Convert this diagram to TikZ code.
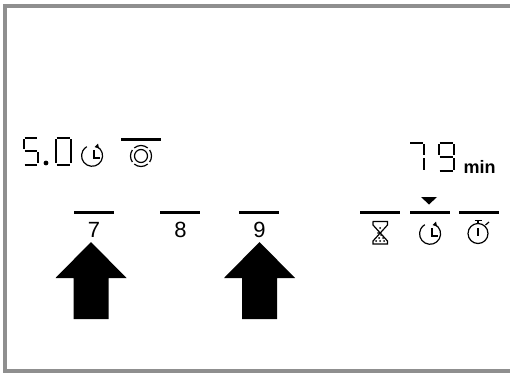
\documentclass[tikz,border=0pt]{standalone}
\usepackage{fontspec}
\setmainfont{Liberation Sans}
\definecolor{framegray}{gray}{0.56}
\tikzset{
  softkey/.style={line width=3pt},
  segment/.style={line width=2pt},
  symbol/.style={line width=1.2pt},
  keylabel/.style={inner sep=0pt,font=\fontsize{22}{22}\selectfont},
}
\begin{document}
\begin{tikzpicture}[x=1pt,y=-1pt]
  \useasboundingbox (0,0) rectangle (510,372);

% frame
  \draw[framegray,line width=4pt] (510,6) -- (5,6) -- (5,371) -- (510,371);

% soft keys
  \foreach \x in {74,160,239,360,410,459} {
      \draw[softkey] (\x,212.5) -- (\x+40,212.5);
  }
  \draw[softkey] (121,139.5) -- (161,139.5);

% key numbers
  \node[keylabel] (seven) at (94,229.5) {7};
  \node[keylabel] (eight) at (180.5,229.5) {8};
  \node[keylabel] (nine) at (259.5,229.5) {9};
  \node[inner sep=0pt,font=\fontsize{18}{18}\selectfont\bfseries] (minutes) at (479.5,166.5) {min};

% big arrows
  \foreach \x in {91,259.5} {
      \fill (\x,242) -- (\x+35.5,278) -- (\x+17.5,278) -- (\x+17.5,319)
        -- (\x-17.5,319) -- (\x-17.5,278) -- (\x-35.5,278) -- cycle;
  }

% marker
  \fill (421,197) -- (437,197) -- (429,204.5) -- cycle;

% display: 5.0
  \draw[segment] (24.5,137.5) -- (36.5,137.5);              % 5 top
  \draw[segment] (23.5,139) -- (23.5,149);
  \draw[segment] (24.5,150.5) -- (36.5,150.5);
  \draw[segment] (37.5,152) -- (37.5,163);
  \draw[segment] (24.5,164.5) -- (36.5,164.5);
  \fill (46,163) circle (2.4pt);
  \draw[segment] (56.5,137.5) -- (69.5,137.5);              % 0
  \draw[segment] (55.5,139) -- (55.5,163);
  \draw[segment] (70.5,139) -- (70.5,163);
  \draw[segment] (56.5,164.5) -- (69.5,164.5);

% display: 79
  \draw[segment] (410,142.5) -- (422.5,142.5);              % 7
  \draw[segment] (423.5,144) -- (423.5,155);
  \draw[segment] (423.5,158) -- (423.5,170);
  \draw[segment] (439.5,142.5) -- (452.5,142.5);            % 9
  \draw[segment] (438.5,144) -- (438.5,155);
  \draw[segment] (453.5,144) -- (453.5,155);
  \draw[segment] (439.5,157) -- (452.5,157);
  \draw[segment] (453.5,158) -- (453.5,170);
  \draw[segment] (439.5,171) -- (452.5,171);

% timer symbols
  \foreach \x/\y in {92/156,430/234} {
      \draw[symbol] (\x+5,\y-9.5) arc (-62:240:10.5);
      \draw[symbol] (\x+2,\y-6) -- (\x+2,\y+2) -- (\x+8,\y+2);
      \fill (\x+6,\y-12.5) -- (\x+7,\y-7.5) -- (\x+2.5,\y-9) -- cycle;
  }

% rings
  \draw[symbol] (141,156) circle (6.5);
  \draw[symbol] (141,156) ++(50:10.5) arc (50:130:10.5);
  \draw[symbol] (141,156) ++(145:10.5) arc (145:215:10.5);
  \draw[symbol] (141,156) ++(230:10.5) arc (230:310:10.5);
  \draw[symbol] (141,156) ++(325:10.5) arc (325:395:10.5);

% hourglass
  \draw[symbol] (372.5,221.5) -- (387.5,221.5) -- (387.5,225) -- (373,241) -- (373,244) -- (387.5,244)
     -- (387.5,241) -- (373,225) -- (373,221.5);
  \foreach \x/\y in {380/228,378/233,381/235,379/238,383/238,376/241,380/241,384/241} {
      \fill (\x,\y) circle (1pt);
  }

% stopwatch
  \draw[symbol] (478,233.5) circle (10);
  \draw[symbol] (478,228) -- (478,236);
  \draw[symbol] (474.5,220.5) -- (481.5,220.5);
  \draw[symbol] (478,220.5) -- (478,223.5);
  \draw[symbol] (485.5,225) -- (489,222);
\end{tikzpicture}
\end{document}
